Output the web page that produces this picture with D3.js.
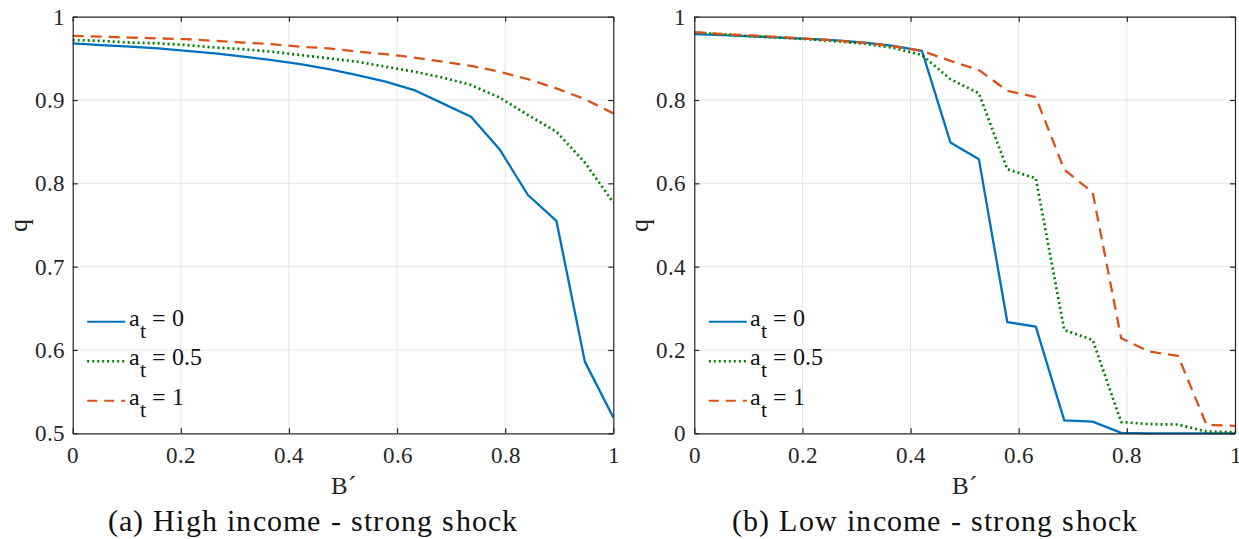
<!DOCTYPE html>
<html>
<head>
  <meta charset="UTF-8">
  <style>
    @font-face {
      font-family: 'ChartSerif';
      src: local('Liberation Serif'), local('LiberationSerif'), local('LiberationSerif-Regular'), local('Tinos'), local('Times New Roman');
    }
    body { margin: 0; padding: 0; }
    svg text { font-family: 'ChartSerif', 'Liberation Serif', 'Tinos', 'Times New Roman'; }
  </style>
</head>
<body>
<script src="https://cdn.jsdelivr.net/npm/d3@7/dist/d3.min.js"></script>
<script>
  // grid of B' values (20 points on [0,1])
  var bPrime = [0, 0.0526, 0.1053, 0.1579, 0.2105, 0.2632, 0.3158, 0.3684, 0.4211, 0.4737,
    0.5263, 0.5789, 0.6316, 0.6842, 0.7368, 0.7895, 0.8421, 0.8947, 0.9474, 1];

  var seriesLabels = ['0', '0.5', '1'];

  // (a) high income - strong shock
  var highA0 = [0.968, 0.966, 0.964, 0.962, 0.959, 0.956, 0.952, 0.948, 0.943, 0.937,
    0.930, 0.922, 0.912, 0.896, 0.880, 0.841, 0.786, 0.755, 0.586, 0.519];
  var highA05 = [0.972, 0.971, 0.969, 0.968, 0.966, 0.963, 0.961, 0.958, 0.954, 0.950,
    0.946, 0.940, 0.934, 0.927, 0.918, 0.903, 0.882, 0.862, 0.825, 0.777];
  var highA1 = [0.977, 0.976, 0.975, 0.974, 0.973, 0.971, 0.969, 0.967, 0.964, 0.962,
    0.958, 0.955, 0.951, 0.946, 0.941, 0.934, 0.925, 0.914, 0.901, 0.884];

  // (b) low income - strong shock
  var lowA0 = [0.958, 0.956, 0.953, 0.950, 0.947, 0.943, 0.938, 0.930, 0.918, 0.698,
    0.658, 0.267, 0.256, 0.031, 0.028, 0.001, 0, 0, 0, 0];
  var lowA05 = [0.962, 0.958, 0.953, 0.950, 0.946, 0.941, 0.935, 0.925, 0.908, 0.850,
    0.816, 0.634, 0.612, 0.248, 0.224, 0.027, 0.022, 0.021, 0.004, 0.003];
  var lowA1 = [0.963, 0.958, 0.955, 0.951, 0.947, 0.943, 0.937, 0.929, 0.918, 0.894,
    0.872, 0.822, 0.807, 0.633, 0.578, 0.228, 0.196, 0.186, 0.020, 0.018];

  var xTicks = [0, 0.2, 0.4, 0.6, 0.8, 1];
  var highYTicks = [0.5, 0.6, 0.7, 0.8, 0.9, 1];
  var lowYTicks = [0, 0.2, 0.4, 0.6, 0.8, 1];

  var captions = ['(a) High income - strong shock', '(b) Low income - strong shock'];

  var colors = ['#0072BD', '#008000', '#D95319'];
  var dashes = [null, '2,3', '11,7'];
  var FONT = "'ChartSerif', 'Liberation Serif', 'Tinos', 'Times New Roman'";

  var svg = d3.select('body').append('svg')
    .attr('width', 1239).attr('height', 539)
    .style('display', 'block');

  // every text gets the serif face
  function serif(sel) {
    return sel.style('font-family', FONT);
  }

  function fmt(d) {
    return d === 0 || d === 1 ? String(d) : d3.format('.1f')(d);
  }

  function drawPanel(opt) {
    var x = d3.scaleLinear().domain([0, 1]).range([opt.left, opt.right]);
    var y = d3.scaleLinear().domain(opt.yDomain).range([433.3, 16.7]);
    var g = svg.append('g');

    // grid
    g.append('g').selectAll('line').data(xTicks.slice(1, -1)).join('line')
      .attr('x1', d => x(d)).attr('x2', d => x(d))
      .attr('y1', y.range()[0]).attr('y2', y.range()[1])
      .attr('stroke', '#e5e5e5').attr('stroke-width', 1);
    g.append('g').selectAll('line').data(opt.yTicks.slice(1, -1)).join('line')
      .attr('y1', d => y(d)).attr('y2', d => y(d))
      .attr('x1', opt.left).attr('x2', opt.right)
      .attr('stroke', '#e5e5e5').attr('stroke-width', 1);

    // lines
    var line = d3.line().x((d, i) => x(bPrime[i])).y(d => y(d));
    opt.series.forEach(function (s, k) {
      g.append('path')
        .attr('d', line(s))
        .attr('fill', 'none')
        .attr('stroke', colors[k])
        .attr('stroke-width', k === 1 ? 2.7 : 2.3)
        .attr('stroke-dasharray', dashes[k])
        .attr('stroke-linejoin', 'round');
    });

    // axes (box with inward ticks)
    var axisStyle = function (sel) {
      sel.attr('font-family', null);
      sel.select('.domain').attr('stroke', '#262626').attr('stroke-width', 1.2);
      sel.selectAll('.tick line').attr('stroke', '#262626').attr('stroke-width', 1.2);
      sel.selectAll('text').attr('font-size', 23).attr('fill', '#262626').call(serif);
    };
    g.append('g').attr('transform', 'translate(0,433.3)')
      .call(d3.axisBottom(x).tickValues(xTicks).tickFormat(fmt).tickSize(-5).tickSizeOuter(0).tickPadding(13))
      .call(axisStyle);
    g.append('g').attr('transform', 'translate(0,16.7)')
      .call(d3.axisTop(x).tickValues(xTicks).tickFormat('').tickSize(-5).tickSizeOuter(0))
      .call(axisStyle);
    g.append('g').attr('transform', 'translate(' + opt.left + ',0)')
      .call(d3.axisLeft(y).tickValues(opt.yTicks).tickFormat(fmt).tickSize(-5).tickSizeOuter(0).tickPadding(8))
      .call(axisStyle);
    g.append('g').attr('transform', 'translate(' + opt.right + ',0)')
      .call(d3.axisRight(y).tickValues(opt.yTicks).tickFormat('').tickSize(-5).tickSizeOuter(0))
      .call(axisStyle);

    // axis labels
    g.append('text')
      .attr('x', (opt.left + opt.right) / 2).attr('y', 494)
      .attr('text-anchor', 'middle').attr('font-size', 25).attr('fill', '#262626')
      .call(serif)
      .text('B\u00B4');
    g.append('text')
      .attr('transform', 'translate(' + (opt.left - 46) + ',225) rotate(-90)')
      .attr('text-anchor', 'middle').attr('font-size', 26).attr('fill', '#262626')
      .call(serif)
      .text('q');

    // caption
    g.append('text')
      .attr('x', opt.captionX).attr('y', 531)
      .attr('text-anchor', 'middle').attr('font-size', 30).attr('fill', '#111')
      .attr('letter-spacing', 1.2)
      .call(serif)
      .text(opt.caption);

    // legend
    var leg = g.append('g');
    seriesLabels.forEach(function (lab, k) {
      var ly = 321.7 + k * 39.5;
      leg.append('line')
        .attr('x1', opt.left + 14.5).attr('x2', opt.left + 52.5)
        .attr('y1', ly).attr('y2', ly)
        .attr('stroke', colors[k]).attr('stroke-width', k === 1 ? 2.5 : 2.1)
        .attr('stroke-dasharray', k === 2 ? '10,7' : dashes[k]);
      var t = leg.append('text')
        .attr('x', opt.left + 56).attr('y', ly + 4)
        .attr('font-size', 24).attr('fill', '#111')
        .call(serif);
      t.append('tspan').text('a');
      t.append('tspan').attr('dy', 12).attr('font-size', 22).text('t');
      t.append('tspan').attr('dy', -12).text(' = ' + lab);
    });
  }

  drawPanel({
    left: 72.7, right: 613.3,
    yDomain: [0.5, 1], yTicks: highYTicks,
    series: [highA0, highA05, highA1],
    caption: captions[0], captionX: 313
  });

  drawPanel({
    left: 694.3, right: 1235,
    yDomain: [0, 1], yTicks: lowYTicks,
    series: [lowA0, lowA05, lowA1],
    caption: captions[1], captionX: 935
  });
</script>

</body>
</html>
